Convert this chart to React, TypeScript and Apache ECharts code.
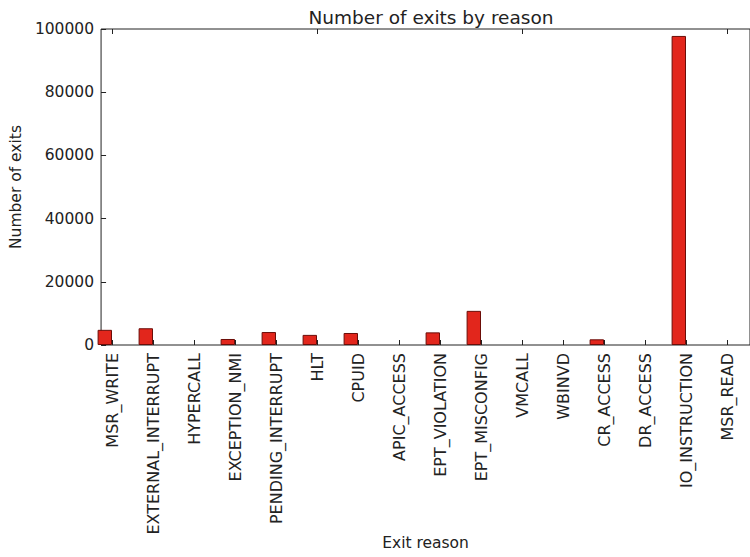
import React, { useEffect, useRef } from "react";
import * as echarts from "echarts";

const categories = [
  "MSR_WRITE",
  "EXTERNAL_INTERRUPT",
  "HYPERCALL",
  "EXCEPTION_NMI",
  "PENDING_INTERRUPT",
  "HLT",
  "CPUID",
  "APIC_ACCESS",
  "EPT_VIOLATION",
  "EPT_MISCONFIG",
  "VMCALL",
  "WBINVD",
  "CR_ACCESS",
  "DR_ACCESS",
  "IO_INSTRUCTION",
  "MSR_READ",
];
const exitCounts = [4800, 5300, 0, 1900, 4100, 3200, 3800, 0, 4000, 10800, 0, 0, 1800, 0, 97800, 0];
const yMin = 0;
const yMax = 100000;
const yInterval = 20000;

const FONT = "DejaVu Sans";
const TEXT = "#222";

export default function App() {
  const ref = useRef<HTMLDivElement>(null);
  useEffect(() => {
    if (!ref.current) return;
    const chart = echarts.init(ref.current, null, { renderer: "svg" });
    chart.setOption({
      animation: false,
      backgroundColor: "#fff",
      title: {
        text: "Number of exits by reason",
        left: 426,
        top: 3,
        textAlign: "center",
        textStyle: { fontSize: 18.5, fontWeight: "normal", color: TEXT, fontFamily: FONT },
      },
      grid: [
        { left: 91.5, top: 29, width: 656, height: 316, show: false },
        { left: 98, top: 29, width: 656, height: 316, show: true, borderColor: "#222", borderWidth: 1, backgroundColor: "transparent" },
      ],
      xAxis: [
        {
          type: "category",
          gridIndex: 0,
          position: "bottom",
          data: categories,
          boundaryGap: true,
          axisLine: { show: false },
          axisTick: { show: true, inside: true, length: 5, alignWithLabel: true, lineStyle: { color: TEXT } },
          axisLabel: { rotate: 90, margin: 8, interval: 0, fontSize: 16, color: TEXT, fontFamily: FONT },
          splitLine: { show: false },
        },
        {
          type: "category",
          gridIndex: 0,
          position: "top",
          data: categories,
          boundaryGap: true,
          axisLine: { show: false },
          axisTick: { show: true, inside: true, length: 5, alignWithLabel: true, lineStyle: { color: TEXT } },
          axisLabel: { show: false },
          splitLine: { show: false },
        },
        {
          type: "value",
          gridIndex: 1,
          min: 0,
          max: 1,
          axisLine: { show: false },
          axisTick: { show: false },
          axisLabel: { show: false },
          splitLine: { show: false },
          name: "Exit reason",
          nameLocation: "middle",
          nameGap: 190,
          nameTextStyle: { fontSize: 15.5, color: TEXT, fontFamily: FONT },
        },
      ],
      yAxis: [
        { type: "value", gridIndex: 0, min: yMin, max: yMax, show: false },
        {
          type: "value",
          gridIndex: 1,
          min: yMin,
          max: yMax,
          interval: yInterval,
          axisLine: { show: false },
          axisTick: { show: true, inside: true, length: 5, lineStyle: { color: TEXT } },
          axisLabel: {
            margin: 7,
            fontSize: 15.5,
            color: TEXT,
            fontFamily: FONT,
            formatter: (v: number) => String(v),
          },
          splitLine: { show: false },
          name: "Number of exits",
          nameLocation: "middle",
          nameGap: 75,
          nameRotate: 90,
          nameTextStyle: { fontSize: 15.5, color: TEXT, fontFamily: FONT },
        },
      ],
      series: [
        {
          type: "bar",
          xAxisIndex: 0,
          yAxisIndex: 0,
          data: exitCounts.map((v) => (v === 0 ? null : v)),
          barWidth: 14.4,
          barGap: "0%",
          itemStyle: { color: "#e2261c", borderColor: "#6b0d08", borderWidth: 1 },
        },
        {
          type: "bar",
          xAxisIndex: 0,
          yAxisIndex: 0,
          data: [],
          barWidth: 14.4,
          barGap: "0%",
        },
      ],
    });
    return () => chart.dispose();
  }, []);
  return (
    <div
      ref={ref}
      style={{ position: "absolute", left: 0, top: 0, width: 750, height: 557 }}
    />
  );
}
